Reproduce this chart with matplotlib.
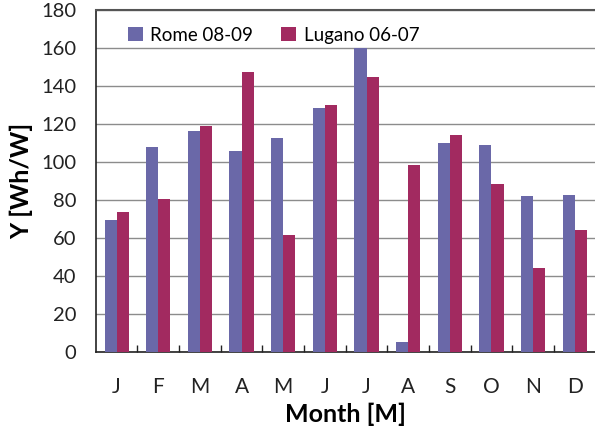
import numpy as np
import matplotlib
matplotlib.use("Agg")
import matplotlib.pyplot as plt

months = ["J", "F", "M", "A", "M", "J", "J", "A", "S", "O", "N", "D"]
rome = [69.5, 108, 116.5, 105.8, 112.8, 128.6, 160.2, 5.4, 110, 108.8, 82.1, 82.6]
lugano = [73.8, 80.4, 119, 147.5, 61.4, 129.8, 144.7, 98.3, 114.2, 88.6, 44, 64.2]
series_names = ["Rome 08-09", "Lugano 06-07"]

plt.rcParams['font.family'] = ['Lato', 'DejaVu Sans']

fig = plt.figure(figsize=(5.95, 4.32), dpi=100)
ax = fig.add_axes([0.161, 0.185, 0.84, 0.792])

x = np.arange(len(months))
w = 0.29
ax.bar(x - w / 2, rome, w, color="#6a68a8", label=series_names[0], zorder=3)
ax.bar(x + w / 2, lugano, w, color="#a22a60", label=series_names[1], zorder=3)

ax.set_ylim(0, 180)
ax.set_xlim(-0.5, len(months) - 0.5)
ax.set_yticks(np.arange(0, 181, 20))
ax.grid(axis="y", color="#8c8c8c", linewidth=1.0, zorder=0)
ax.set_axisbelow(True)

# month labels centered, tick marks between groups
ax.set_xticks(x)
ax.set_xticklabels(months)
ax.tick_params(axis="x", which="major", length=0, pad=18, labelsize=15, colors="#222222")
ax.set_xticks(np.arange(0.5, len(months) - 0.5, 1), minor=True)
ax.tick_params(axis="x", which="minor", direction="in", length=5, width=1, color="#222222")
ax.tick_params(axis="y", length=0, pad=14, labelsize=14.5, colors="#222222")

ax.spines["right"].set_visible(False)
ax.spines["top"].set_color("#555555")
ax.spines["top"].set_linewidth(1.5)
for s in ["left", "bottom"]:
    ax.spines[s].set_color("#222222")
    ax.spines[s].set_linewidth(1.2)

ax.set_xlabel("Month [M]", fontsize=18, fontweight="bold", labelpad=4)
ax.set_ylabel("Y [Wh/W]", fontsize=18, fontweight="bold", labelpad=6)

ax.legend(loc="upper left", bbox_to_anchor=(0.03, 1.0), ncol=2, frameon=False,
          fontsize=13.5, handlelength=0.8, handleheight=0.8, columnspacing=1.5,
          handletextpad=0.4)

fig.savefig("out.png", dpi=100)
